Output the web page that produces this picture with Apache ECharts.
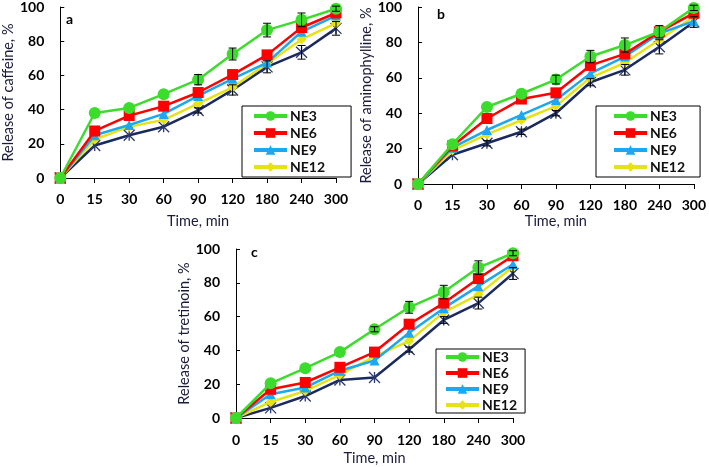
<!DOCTYPE html>
<html>
<head>
<meta charset="utf-8">
<script src="https://cdn.jsdelivr.net/npm/echarts@6/dist/echarts.min.js"></script>
<style>
html,body{margin:0;padding:0;background:#fff;}
#chart{width:709px;height:467px;}
</style>
</head>
<body>
<div id="chart"></div>
<script>
const categories = ['0','15','30','60','90','120','180','240','300'];
const legendNames = ['NE3','NE6','NE9','NE12'];

// Panel a: caffeine
const caffNE3  = [0,38,41,49,57.5,72.5,86.5,92.5,99];
const caffNE6  = [0,27.5,36.5,42,50,60.5,72,88,96.5];
const caffNE9  = [0,25,31,37.5,48,58,67.5,85.5,95];
const caffNE12 = [0,22.5,30,34,43.5,53,67,81,90.5];
const caffCtrl = [0,19,25,30,39.5,51.5,65,73.5,87.5];
const caffErrNE3  = [0,0,0,0,3,3.5,4,4,1.5];
const caffErrCtrl = [0,0,0,0,1.5,3,3.5,4,4];

// Panel b: aminophylline
const aminoNE3  = [0,22.5,43.5,51,59,72,78.5,86,99.5];
const aminoNE6  = [0,21.5,37,48,51.5,67,73.5,86,96.5];
const aminoNE9  = [0,20.5,30.5,39,47.5,62.5,72,85,92];
const aminoNE12 = [0,19,28,36,44,60,68.5,81.5,94.5];
const aminoCtrl = [0,16.5,23,29.5,40,57.5,64.5,77.5,91.5];
const aminoErrNE3  = [0,0,0,0,2.5,3.5,4,3.5,1.5];
const aminoErrCtrl = [0,0,1.5,1.5,1.5,2,3,4,3];

// Panel c: tretinoin
const tretNE3  = [0,20.5,29.5,39,52.5,65.5,74.5,89,97.5];
const tretNE6  = [0,17,21,30,39,55.5,68,82.5,96];
const tretNE9  = [0,14,18,28,34,50.5,65,78,91];
const tretNE12 = [0,9.5,16,25.5,36.5,45.5,62.5,73,89.5];
const tretCtrl = [0,6,13,22.5,24,40.5,58,68,85.5];
const tretErrNE3  = [0,0,0,0,1.5,3.5,4,4,1.5];
const tretErrCtrl = [0,0,0,0,0,1.5,2,3.5,3.5];

const panels = [
  {letter:'a', yName:'Release of caffeine, %', data:[caffNE3,caffNE6,caffNE9,caffNE12,caffCtrl], errs:[[caffNE3,caffErrNE3],[caffCtrl,caffErrCtrl]]},
  {letter:'b', yName:'Release of aminophylline, %', data:[aminoNE3,aminoNE6,aminoNE9,aminoNE12,aminoCtrl], errs:[[aminoNE3,aminoErrNE3],[aminoCtrl,aminoErrCtrl]]},
  {letter:'c', yName:'Release of tretinoin, %', data:[tretNE3,tretNE6,tretNE9,tretNE12,tretCtrl], errs:[[tretNE3,tretErrNE3],[tretCtrl,tretErrCtrl]]}
];

const seriesStyle = [
  {name:'NE3',  color:'#3cdc2c', symbol:'circle',   size:12},
  {name:'NE6',  color:'#ff0000', symbol:'rect',     size:11},
  {name:'NE9',  color:'#1ca8f0', symbol:'triangle', size:10},
  {name:'NE12', color:'#e6e214', symbol:'diamond',  size:10},
  {name:'Control', color:'#1b2a5c', symbol:'path://M0,0L10,10M10,0L0,10M5,0L5,10', size:11}
];

const layout = [
  {grid:{left:53, right:373, top:7, bottom:289}, yGap:42, xGap:36, xMargin:14, legend:{left:242, top:106, padding:[3,26,3,10], itemGap:3}, letter:[70,21]},
  {grid:{left:418, right:14, top:7, bottom:283}, yGap:44, xGap:30, xMargin:14, legend:{left:596, top:106, padding:[3,15,3,16], itemGap:3}, letter:[441,16]},
  {grid:{left:236, right:196, top:249, bottom:48}, yGap:44, xGap:33, xMargin:15, legend:{left:436, top:349, padding:[1,8,1,8], itemGap:2}, letter:[255,254]}
];

const FONT = 'Lato, "Liberation Sans", sans-serif';
const grids=[], xAxes=[], yAxes=[], series=[], legends=[], graphics=[];

panels.forEach((p, i) => {
  const L = layout[i];
  grids.push(L.grid);
  xAxes.push({
    type:'category', gridIndex:i, data:categories, boundaryGap:false,
    name:'Time, min', nameLocation:'middle', nameGap:L.xGap,
    nameTextStyle:{fontFamily:FONT, fontSize:14.5, color:'#1a1a3a'},
    axisLine:{lineStyle:{color:'#000', width:1}},
    axisTick:{show:true, inside:false, length:5, lineStyle:{color:'#000'}},
    axisLabel:{fontFamily:FONT, fontWeight:'bold', fontSize:14, color:'#000', margin:L.xMargin, interval:0},
    splitLine:{show:false}
  });
  yAxes.push({
    type:'value', gridIndex:i, min:0, max:100, interval:20,
    name:p.yName, nameLocation:'middle', nameGap:L.yGap,
    nameTextStyle:{fontFamily:FONT, fontSize:14.5, color:'#1a1a3a'},
    axisLine:{show:true, lineStyle:{color:'#000', width:1}},
    axisTick:{show:true, inside:true, length:4, lineStyle:{color:'#000'}},
    axisLabel:{fontFamily:FONT, fontWeight:'bold', fontSize:14, color:'#000', margin:16},
    splitLine:{show:false}
  });
  p.data.forEach((arr, k) => {
    const s = seriesStyle[k];
    const isCtrl = k === 4;
    series.push({
      type:'line', name:s.name, xAxisIndex:i, yAxisIndex:i, data:arr,
      symbol:s.symbol, symbolSize:s.size, showAllSymbol:true,
      lineStyle:{color:s.color, width:2.5},
      itemStyle: isCtrl ? {color:'none', borderColor:'#2a3a70', borderWidth:1.3} : {color:s.color, borderWidth:0},
      z: isCtrl ? 2 : 3 + (4-k),
      animation:false
    });
  });
  const errData = [];
  p.errs.forEach(([vals, errs]) => {
    vals.forEach((v, j) => { if (errs[j] > 0) errData.push([j, v, errs[j]]); });
  });
  series.push({
    type:'custom', name:'err'+i, xAxisIndex:i, yAxisIndex:i, data:errData, z:10, animation:false,
    renderItem:(params, api) => {
      const x = api.value(0), y = api.value(1), e = api.value(2);
      const hi = api.coord([x, y+e]), lo = api.coord([x, y-e]);
      const w = 4;
      return {type:'group', children:[
        {type:'line', shape:{x1:hi[0], y1:hi[1], x2:lo[0], y2:lo[1]}, style:{stroke:'#000', lineWidth:1}},
        {type:'line', shape:{x1:hi[0]-w, y1:hi[1], x2:hi[0]+w, y2:hi[1]}, style:{stroke:'#000', lineWidth:1}},
        {type:'line', shape:{x1:lo[0]-w, y1:lo[1], x2:lo[0]+w, y2:lo[1]}, style:{stroke:'#000', lineWidth:1}}
      ]};
    }
  });
  legends.push({
    data:legendNames, orient:'vertical', left:L.legend.left, top:L.legend.top,
    padding:L.legend.padding, itemGap:L.legend.itemGap, itemWidth:33, itemHeight:12,
    borderColor:'#000', borderWidth:1, borderRadius:0, backgroundColor:'#fff',
    selectedMode:false,
    textStyle:{fontFamily:FONT, fontWeight:'bold', fontSize:14, color:'#111', padding:[0,0,0,-2]},
    lineStyle:{width:4}
  });
  graphics.push({type:'text', left:L.letter[0]-4, top:L.letter[1]-9,
    style:{text:p.letter, font:'bold 14px '+FONT, fill:'#000'}});
});

const chart = echarts.init(document.getElementById('chart'), null, {renderer:'canvas'});
chart.setOption({
  animation:false,
  backgroundColor:'#fff',
  grid:grids, xAxis:xAxes, yAxis:yAxes, series:series, legend:legends, graphic:graphics
});
</script>
</body>
</html>
